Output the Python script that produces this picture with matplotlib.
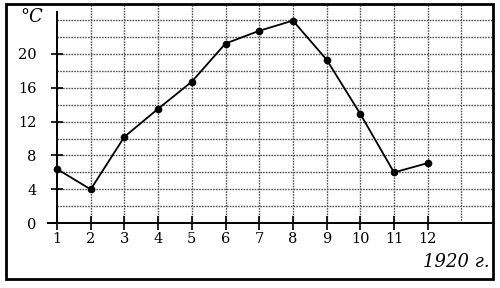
import matplotlib
matplotlib.use("Agg")
import matplotlib.pyplot as plt
from matplotlib.patches import Rectangle

# monthly mean temperature, 1920
months = [1, 2, 3, 4, 5, 6, 7, 8, 9, 10, 11, 12]
temps = [6.4, 4.0, 10.2, 13.5, 16.7, 21.2, 22.7, 23.9, 19.3, 12.9, 6.0, 7.1]
y_ticks = [0, 4, 8, 12, 16, 20]

plt.rcParams['font.family'] = ['DejaVu Serif']

fig = plt.figure(figsize=(5, 2.88), dpi=100)
W, H = 500, 288

# axes placed in pixel terms
x0_px, x1_px = 48, 493
y0_px, y1_px = 223.3, 5
ax = fig.add_axes([x0_px / W, 1 - y0_px / H, (x1_px - x0_px) / W, (y0_px - y1_px) / H])

xmin = 1 - (57 - x0_px) / 33.7
xmax = 1 + (x1_px - 57) / 33.7
ymax = (y0_px - y1_px) / 8.48
ax.set_xlim(xmin, xmax)
ax.set_ylim(0, ymax)

# grid
grid_style = dict(color="#555555", lw=1.0, linestyle=(0, (1.2, 0.8)), zorder=1)
for v in range(2, 26, 2):
    if v < ymax:
        ax.hlines(v, 1, xmax, **grid_style)
for m in range(2, 14):
    ax.vlines(m, 0, ymax, **grid_style)

ax.plot(months, temps, color="black", lw=1.3, marker="o", markersize=4.5, zorder=3)

for s in ["top", "right"]:
    ax.spines[s].set_visible(False)
ax.spines["left"].set_position(("data", 1))
ax.spines["left"].set_bounds(0, 24.9)
ax.spines["left"].set_linewidth(1.4)
ax.spines["bottom"].set_linewidth(1.4)

ax.set_xticks(months)
ax.set_yticks(y_ticks)
ax.tick_params(axis="x", direction="inout", length=10, width=1.2, labelsize=10.5, pad=1)
ax.tick_params(axis="y", direction="inout", length=9, width=1.2, labelsize=10.5, pad=10)

fig.text(32 / W, 1 - 17.5 / H, "°C", fontsize=13, style="italic", ha="center", va="center")
fig.text(490 / W, 1 - 262 / H, "1920 г.", fontsize=13, style="italic", ha="right", va="center")

fig.patches.append(Rectangle((6 / W, 1 - 279 / H), 487 / W, 275 / H,
                             transform=fig.transFigure, fill=False, lw=2, edgecolor="black"))

fig.savefig("out.png", dpi=100)
